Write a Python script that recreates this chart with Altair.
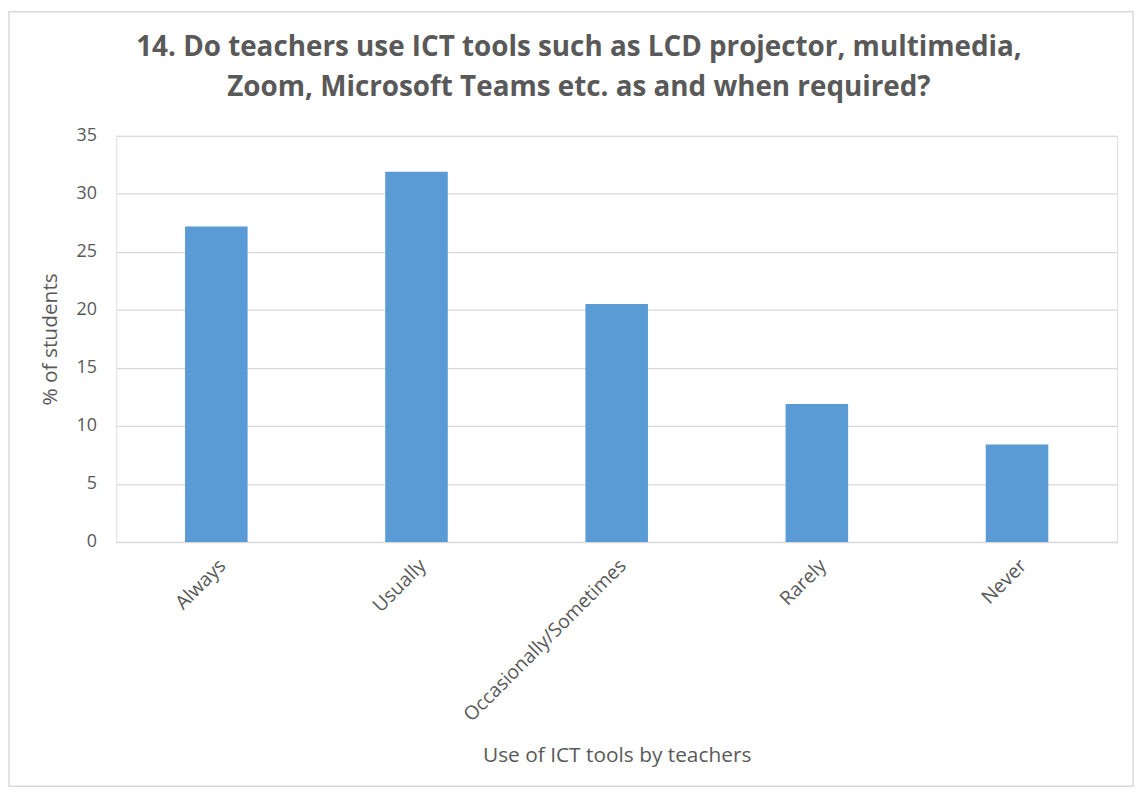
import altair as alt
import pandas as pd

categories = ["Always", "Usually", "Occasionally/Sometimes", "Rarely", "Never"]
values = [27.2, 31.9, 20.5, 11.9, 8.4]
y_ticks = [0, 5, 10, 15, 20, 25, 30, 35]

df = pd.DataFrame({"category": categories, "value": values})

W, H = 1008, 409
PAD_L, PAD_T = 109, 126
PAD_R = 1134 - PAD_L - W
PAD_B = 782 - PAD_T - H
FONT = "Open Sans"
GREY = "#595959"

bars = alt.Chart(df).mark_bar(color="#5b9bd5").encode(
    x=alt.X(
        "category:N",
        sort=categories,
        scale=alt.Scale(paddingInner=0.6875, paddingOuter=0.34375),
        axis=alt.Axis(
            title="Use of ICT tools by teachers",
            labelAngle=-45,
            labelFontSize=19.5,
            labelColor=GREY,
            labelFont=FONT,
            labelPadding=14,
            labelLimit=400,
            ticks=False,
            domain=True,
            domainColor="#d9d9d9",
            domainWidth=1,
            titleFont=FONT,
            titleFontSize=21,
            titleFontWeight="normal",
            titleColor=GREY,
            titleY=215,
            titleBaseline="middle",
        ),
    ),
    y=alt.Y(
        "value:Q",
        scale=alt.Scale(domain=[0, 35]),
        axis=alt.Axis(
            values=y_ticks,
            title="% of students",
            labelFontSize=18,
            labelColor=GREY,
            labelFont=FONT,
            labelPadding=20,
            ticks=False,
            domain=False,
            grid=True,
            gridColor="#d9d9d9",
            gridWidth=1.3,
            titleFont=FONT,
            titleFontSize=21,
            titleFontWeight="normal",
            titleColor=GREY,
            titleX=-66,
            titleY=H / 2,
            titleAngle=-90,
            titleBaseline="middle",
        ),
    ),
)

frame = alt.Chart(pd.DataFrame({"a": [0]})).mark_rect(
    fill="transparent", stroke="#d9d9d9", strokeWidth=1.5
).encode(
    x=alt.value(-PAD_L + 1),
    x2=alt.value(W + PAD_R - 1),
    y=alt.value(-PAD_T + 1),
    y2=alt.value(H + PAD_B - 1),
)

chart = (
    alt.layer(frame, bars)
    .properties(
        width=W,
        height=H,
        autosize=alt.AutoSizeParams(type="none"),
        padding={"left": PAD_L, "top": PAD_T, "right": PAD_R, "bottom": PAD_B},
        title=alt.TitleParams(
            text=[
                "14. Do teachers use ICT tools such as LCD projector, multimedia,",
                "Zoom, Microsoft Teams etc. as and when required?",
            ],
            font=FONT,
            fontSize=28,
            fontWeight="bold",
            color=GREY,
            anchor="middle",
            dx=-38,
            offset=-92,
            lineHeight=41,
        ),
    )
    .configure_view(stroke=None)
    .configure(background="white")
)

chart.save("out.html", embed_options={"renderer": "svg", "actions": False})
